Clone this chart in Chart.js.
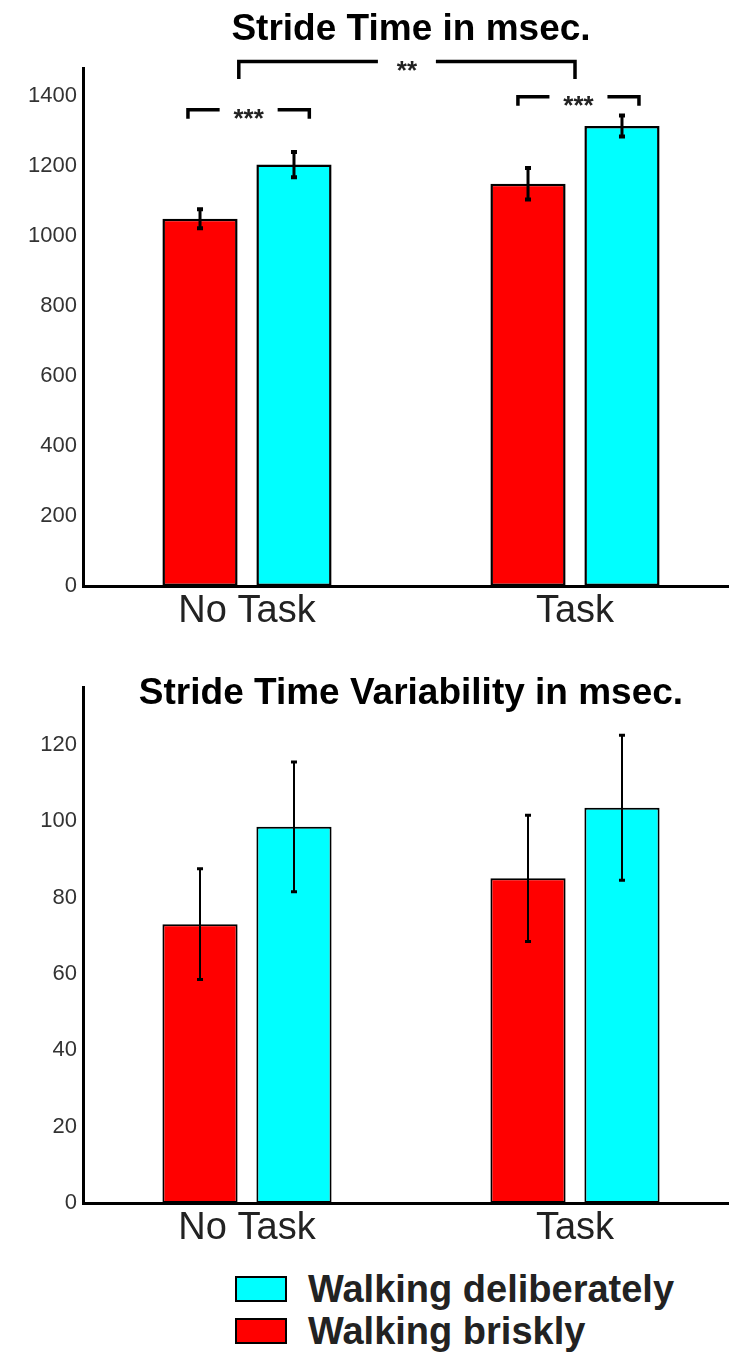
<!DOCTYPE html>
<html>
<head>
<meta charset="utf-8">
<script src="https://cdn.jsdelivr.net/npm/chart.js@4.4.0/dist/chart.umd.min.js"></script>
<style>
  html, body { margin: 0; padding: 0; background: #fff; overflow: hidden; }
  body { width: 729px; height: 1355px; position: relative; font-family: "Liberation Sans", Arial, sans-serif; }
  .wrap { position: absolute; left: 0; width: 739px; }
  #wrapTime { top: 0; height: 640px; }
  #wrapVar { top: 650px; height: 607px; }
  #legend { position: absolute; left: 235px; top: 1268px; }
  #legend .row { display: flex; align-items: center; height: 42px; font-weight: bold; font-size: 38px; color: #222; }
  #legend .sw { width: 52px; height: 26px; border: 2px solid #000; box-sizing: border-box; margin-right: 21px; }
</style>
</head>
<body>
<div class="wrap" id="wrapTime"><canvas id="chartTime"></canvas></div>
<div class="wrap" id="wrapVar"><canvas id="chartVar"></canvas></div>
<div id="legend"></div>
<script>
const FONT = '"Liberation Sans", Arial, sans-serif';

const categories = ['No Task', 'Task'];
const seriesNames = ['Walking briskly', 'Walking deliberately'];
const seriesColors = ['#ff0000', '#00ffff'];

// stride time (msec)
const timeBrisk = [1050, 1150];
const timeBriskErr = [27, 45];
const timeDelib = [1205, 1315];
const timeDelibErr = [36, 30];

// stride time variability (msec)
const varBrisk = [73, 85];
const varBriskErr = [14.5, 16.5];
const varDelib = [98.5, 103.5];
const varDelibErr = [17, 19];

// significance brackets on the stride time chart, x in category units
const timeBrackets = [
  { from: -0.025, to: 1.0, level: 1500, drop: 50, label: '**' },
  { from: -0.18, to: 0.19, level: 1362, drop: 26, label: '***' },
  { from: 0.826, to: 1.195, level: 1399, drop: 26, label: '***' }
];

const errorBars = {
  id: 'errorBars',
  afterDatasetsDraw(chart, args, opts) {
    const ctx = chart.ctx;
    const y = chart.scales.y;
    chart.data.datasets.forEach((ds, i) => {
      const meta = chart.getDatasetMeta(i);
      meta.data.forEach((bar, j) => {
        const v = ds.data[j];
        const e = ds.errors[j];
        const top = y.getPixelForValue(v + e);
        const bot = y.getPixelForValue(v - e);
        ctx.save();
        ctx.strokeStyle = '#000';
        ctx.lineWidth = opts.width;
        ctx.beginPath();
        ctx.moveTo(bar.x, top);
        ctx.lineTo(bar.x, bot);
        ctx.stroke();
        ctx.lineWidth = opts.width + 1;
        ctx.beginPath();
        ctx.moveTo(bar.x - opts.cap, top);
        ctx.lineTo(bar.x + opts.cap, top);
        ctx.moveTo(bar.x - opts.cap, bot);
        ctx.lineTo(bar.x + opts.cap, bot);
        ctx.stroke();
        ctx.restore();
      });
    });
  }
};

const sigBrackets = {
  id: 'sigBrackets',
  afterDraw(chart) {
    const { ctx, scales: { x, y } } = chart;
    const x0 = x.getPixelForValue(0);
    const step = x.getPixelForValue(1) - x0;
    timeBrackets.forEach(b => {
      const l = x0 + b.from * step;
      const r = x0 + b.to * step;
      const yl = y.getPixelForValue(b.level);
      const yd = y.getPixelForValue(b.level - b.drop);
      const mid = (l + r) / 2;
      const gap = 29;
      ctx.save();
      ctx.strokeStyle = '#000';
      ctx.lineWidth = 3.5;
      ctx.beginPath();
      ctx.moveTo(l, yd);
      ctx.lineTo(l, yl);
      ctx.lineTo(mid - gap, yl);
      ctx.moveTo(mid + gap, yl);
      ctx.lineTo(r, yl);
      ctx.lineTo(r, yd);
      ctx.stroke();
      ctx.fillStyle = '#222';
      ctx.font = 'bold 26px ' + FONT;
      ctx.textAlign = 'center';
      ctx.textBaseline = 'middle';
      ctx.fillText(b.label, mid, yl + 10);
      ctx.restore();
    });
  }
};

function makeOptions(title, max, step, titlePad, errWidth) {
  return {
    responsive: true,
    maintainAspectRatio: false,
    animation: false,
    layout: { padding: 0 },
    plugins: {
      legend: { display: false },
      tooltip: { enabled: false },
      title: {
        display: true,
        text: title,
        fullSize: false,
        color: '#000',
        font: { family: FONT, size: 37, weight: 'bold' },
        padding: titlePad
      },
      errorBars: { width: errWidth, cap: 3 }
    },
    scales: {
      x: {
        grid: { display: false, drawTicks: false },
        border: { display: true, color: '#000', width: 3 },
        ticks: { color: '#222', font: { family: FONT, size: 38 }, padding: 3 },
        afterFit: s => { s.height = 54; }
      },
      y: {
        min: 0,
        max: max,
        grid: { display: false, drawTicks: false },
        border: { display: true, color: '#000', width: 3 },
        ticks: {
          stepSize: step,
          includeBounds: false,
          color: '#333',
          font: { family: FONT, size: 22 },
          padding: 6,
          callback: v => String(v)
        },
        afterFit: s => { s.width = 83; }
      }
    }
  };
}

function makeDatasets(brisk, briskErr, delib, delibErr, bw) {
  const common = { borderColor: '#000', borderWidth: bw, borderSkipped: false, categoryPercentage: 0.573, barPercentage: 0.8 };
  return [
    Object.assign({ label: seriesNames[0], data: brisk, errors: briskErr, backgroundColor: seriesColors[0] }, common),
    Object.assign({ label: seriesNames[1], data: delib, errors: delibErr, backgroundColor: seriesColors[1] }, common)
  ];
}

new Chart(document.getElementById('chartTime'), {
  type: 'bar',
  data: { labels: categories, datasets: makeDatasets(timeBrisk, timeBriskErr, timeDelib, timeDelibErr, 2.5) },
  options: makeOptions('Stride Time in msec.', 1480, 200, { top: 8, bottom: 16 }, 3),
  plugins: [errorBars, sigBrackets]
});

new Chart(document.getElementById('chartVar'), {
  type: 'bar',
  data: { labels: categories, datasets: makeDatasets(varBrisk, varBriskErr, varDelib, varDelibErr, 2) },
  options: makeOptions('Stride Time Variability in msec.', 135, 20, { top: 22, bottom: -29 }, 2),
  plugins: [errorBars]
});

const legendEl = document.getElementById('legend');
[1, 0].forEach(i => {
  const row = document.createElement('div');
  row.className = 'row';
  const sw = document.createElement('span');
  sw.className = 'sw';
  sw.style.background = seriesColors[i];
  const txt = document.createElement('span');
  txt.textContent = seriesNames[i];
  row.appendChild(sw);
  row.appendChild(txt);
  legendEl.appendChild(row);
});
</script>
</body>
</html>
